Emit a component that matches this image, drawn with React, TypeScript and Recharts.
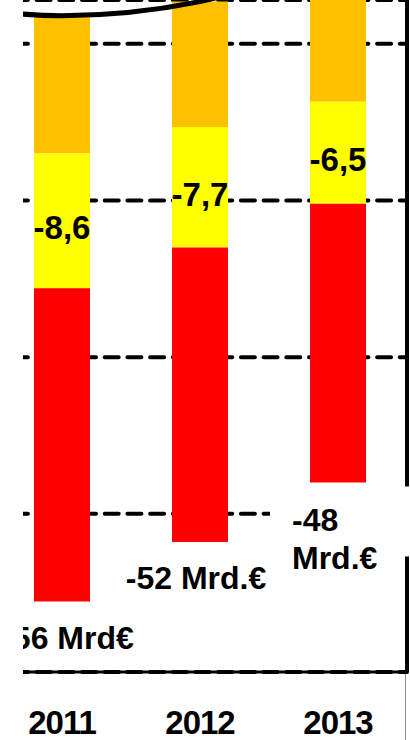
import { Bar, CartesianGrid, ComposedChart, LabelList, Line, XAxis, YAxis } from "recharts";

// Mrd. €, negative = deficit
const years = ["2010", "2011", "2012", "2013"];
const upperLevel = [-17.3, -18.2, -17.3, -14.0];
const orangePart = [null, -8.8, -8.0, -9.7];
const yellowPart = [null, -8.6, -7.7, -6.5];
const redPart = [null, -20.0, -18.8, -17.8];
const totalUnits = ["", "Mrd€", "Mrd.€", "Mrd.€"];
const gridTicks = [-50, -40, -30, -20];

const data = years.map((year, i) => ({
  year,
  hang: orangePart[i] == null ? null : upperLevel[i],
  orange: orangePart[i],
  yellow: yellowPart[i],
  red: redPart[i],
  upper: upperLevel[i],
}));

const FONT = "'Liberation Sans', Arial, sans-serif";
const labelStyle = { fontFamily: FONT, fontWeight: 700, fontSize: 32, fill: "#000" };

function box(p: any) {
  const vb = p.viewBox ?? {};
  return {
    x: vb.x ?? p.x,
    y: vb.y ?? p.y,
    width: vb.width ?? p.width,
    height: vb.height ?? p.height,
  };
}

function MidLabel(props: any) {
  const i = years.indexOf(String(props.value));
  const v = yellowPart[i];
  if (v == null) return null;
  const { x, y, width, height } = box(props);
  return (
    <text x={x + width / 2} y={y + height / 2 + 7} dy="0.35em" textAnchor="middle" {...labelStyle} fontSize={33}>
      {v.toFixed(1).replace(".", ",")}
    </text>
  );
}

function TotalLabel(props: any) {
  const i = years.indexOf(String(props.value));
  if (i < 0 || redPart[i] == null) return null;
  const { x, y, width, height } = box(props);
  const bottom = Math.max(y, y + height);
  const level = upperLevel[i] + orangePart[i]! + yellowPart[i]! + redPart[i]!;
  const amount = `-${Math.round(-level)}`;
  const unit = totalUnits[i];
  if (i === years.length - 1) {
    // last column sits at the frame edge, so its label breaks onto two lines
    return (
      <g>
        <rect x={x - 40} y={bottom + 4} width={150} height={70} fill="#fff" />
        <text x={x - 18} y={bottom + 49} {...labelStyle}>{amount}</text>
        <text x={x - 18} y={bottom + 87} {...labelStyle}>{unit}</text>
      </g>
    );
  }
  const shift = i === 1 ? 6 : -4;
  return (
    <text x={x + width / 2 + shift} y={bottom + 47} textAnchor="middle" {...labelStyle}>
      {`${amount} ${unit}`}
    </text>
  );
}

function YearTick({ x, y, payload, index }: any) {
  // the leading year only carries the curve, it gets no column and no label
  if (redPart[index] == null) return null;
  return (
    <text x={x} y={y} dy="0.71em" textAnchor="middle" fontFamily={FONT} fontWeight={700} fontSize={33} letterSpacing={-1} fill="#000">
      {payload.value}
    </text>
  );
}

export default function App() {
  return (
    <div style={{ position: "absolute", left: 0, top: 0, width: 410, height: 740, overflow: "hidden", background: "#fff" }}>
      <div style={{ position: "absolute", left: 23, top: 0, width: 387, height: 740, overflow: "hidden" }}>
        <div style={{ position: "absolute", left: -168, top: 0 }}>
          <ComposedChart width={556} height={740} data={data} margin={{ top: 0, right: 0, left: 0, bottom: 0 }} barSize={56}>
            <CartesianGrid
              vertical={false}
              stroke="#000"
              strokeWidth={4}
              strokeDasharray="14 8.7"
              strokeLinecap="round"
            />
            <XAxis
              dataKey="year"
              height={68}
              interval={0}
              tickLine={false}
              tickMargin={33}
              tick={<YearTick />}
              axisLine={{ stroke: "#000", strokeWidth: 3 }}
            />
            <YAxis
              orientation="right"
              width={4}
              domain={[-60.1, -17.2]}
              allowDataOverflow
              ticks={gridTicks}
              interval={0}
              tickFormatter={() => ""}
              tickLine={false}
              axisLine={{ stroke: "#000", strokeWidth: 4 }}
            />
            <Bar dataKey="hang" stackId="s" fill="transparent" isAnimationActive={false} />
            <Bar dataKey="orange" stackId="s" fill="#FFC000" isAnimationActive={false} />
            <Bar dataKey="yellow" stackId="s" fill="#FFFF00" isAnimationActive={false}>
              <LabelList dataKey="year" content={MidLabel} />
            </Bar>
            <Bar dataKey="red" stackId="s" fill="#FF0000" isAnimationActive={false}>
              <LabelList dataKey="year" content={TotalLabel} />
            </Bar>
            <Line
              dataKey="upper"
              type="monotone"
              stroke="#000"
              strokeWidth={5}
              dot={false}
              activeDot={false}
              isAnimationActive={false}
            />
          </ComposedChart>
        </div>
      </div>
      <div style={{ position: "absolute", left: 405, top: 674, width: 1, height: 66, background: "#8c8c8c" }} />
    </div>
  );
}
